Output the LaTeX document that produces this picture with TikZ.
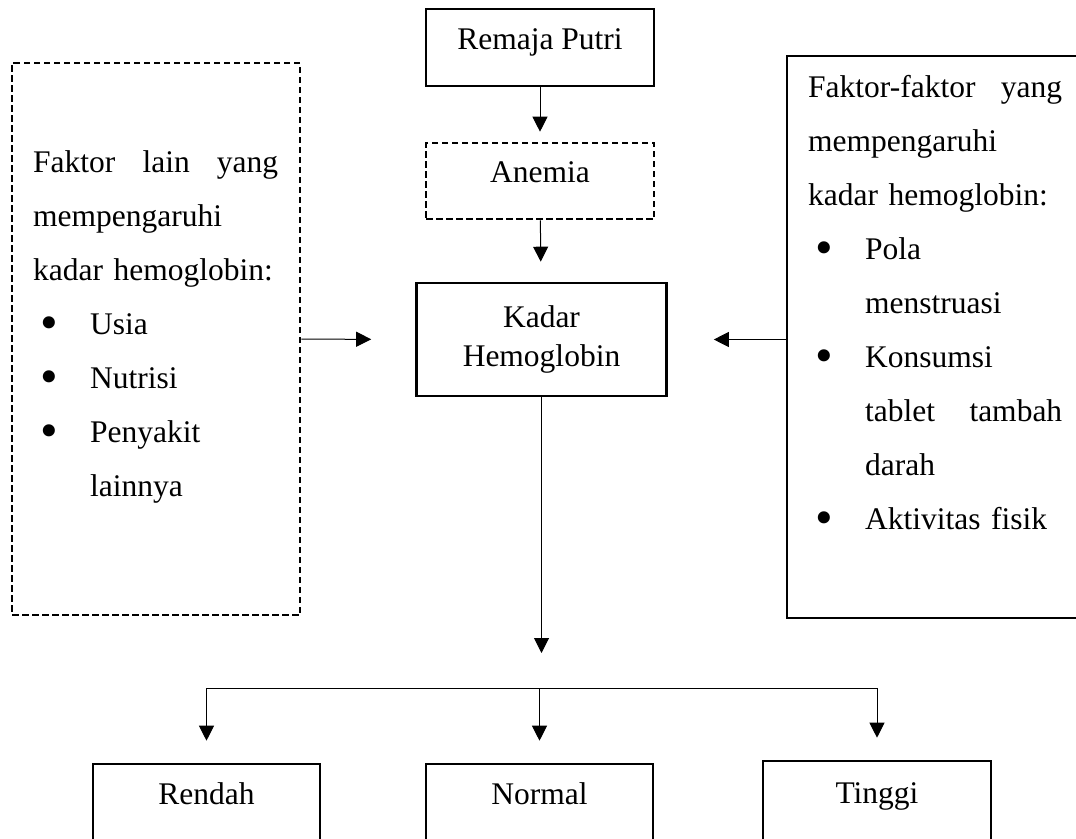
\documentclass[tikz,border=0pt]{standalone}
\usepackage{fontspec}
\setmainfont{Liberation Serif}
\usetikzlibrary{arrows.meta}
\newcommand{\butir}{\hspace*{7.5pt}\makebox[49.5pt][l]{\raisebox{-5pt}{\scalebox{1.6}{\textbullet}}}}
\newcommand{\lanjut}{\hspace*{57pt}}
\tikzset{
    kotak/.style={draw, line width=2.6pt, inner sep=0pt},
    isi/.style={text height=0.7em, text depth=0.4em},
    putus/.style={dash pattern=on 6.5pt off 3.5pt},
    panah/.style={-{Triangle[length=15pt,width=15pt]}, line width=1pt},
    daftar/.style={anchor=north west, inner sep=0pt, align=left, text width=#1}
}

\begin{document}
\begin{tikzpicture}[x=1pt, y=-1pt, font=\fontsize{31.5}{54}\selectfont]
                    \useasboundingbox (0,0) rectangle (1076,838);
                    \node[kotak, isi, minimum width=228pt, minimum height=77pt] (remaja) at (540,47.5) {Remaja Putri};
                    \node[kotak, isi, putus, minimum width=228pt, minimum height=76pt] (anemia) at (540,181) {Anemia};
                    \node[kotak, align=center, font=\fontsize{31.5}{39}\selectfont, minimum width=250pt, minimum height=113pt] (kadar) at (541.5,339.5) {Kadar\\Hemoglobin};
                    \node[kotak, putus, minimum width=288pt, minimum height=552pt] (lain) at (156,339) {};
                    \node[kotak, minimum width=298pt, minimum height=562pt] (faktor) at (936,337) {};
                    \node[daftar=245pt] (tlain) at (33,134.2) {\strut Faktor\hfill lain\hfill yang\\
                        mempengaruhi\\
                        kadar hemoglobin:\\
                        \butir Usia\\
                        \butir Nutrisi\\
                        \butir Penyakit\\
                        \lanjut lainnya};
                    \node[daftar=254pt] (tfaktor) at (808,59.2) {\strut Faktor-faktor\hfill yang\\
                        mempengaruhi\\
                        kadar hemoglobin:\\
                        \butir Pola\\
                        \lanjut menstruasi\\
                        \butir Konsumsi\\
                        \lanjut tablet\hfill tambah\\
                        \lanjut darah\\
                        \butir Aktivitas fisik};
                    \node[kotak, isi, minimum width=227pt, minimum height=78pt] (rendah) at (206.5,803) {Rendah};
                    \node[kotak, isi, minimum width=227pt, minimum height=78pt] (normal) at (539.5,803) {Normal};
                    \node[kotak, isi, minimum width=228pt, minimum height=82pt] (tinggi) at (877,802) {Tinggi};
                    \coordinate (ujung) at (541.5,653);
                    \coordinate (cabang) at (541.5,688);
                    \draw[panah, shorten >=10pt] (remaja) -- (anemia);
                    \draw[panah, shorten >=20pt] (anemia) -- (kadar);
                    \draw[panah, shorten >=44pt] (lain) -- (kadar);
                    \draw[panah, shorten >=46pt] (faktor.west |- kadar) -- (kadar);
                    \draw[panah] (kadar) -- (ujung);
                    \draw[line width=1pt] (rendah.north |- cabang) -- (tinggi.north |- cabang);
                    \foreach \n in {rendah, normal, tinggi}
                        \draw[panah, shorten >=22pt] (\n.north |- cabang) -- (\n.north);
                \end{tikzpicture}
\end{document}
